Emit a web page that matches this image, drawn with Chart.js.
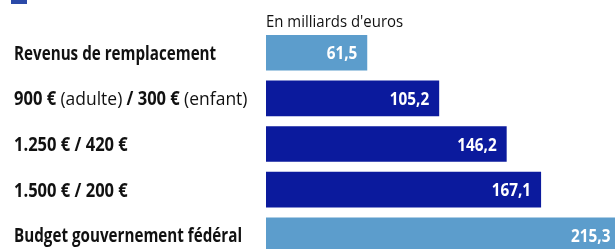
<!DOCTYPE html>
<html>
<head>
<meta charset="utf-8">
<script src="https://cdn.jsdelivr.net/npm/chart.js@4/dist/chart.umd.min.js"></script>
<style>
  html, body { margin: 0; padding: 0; background: #fff; overflow: hidden; }
  #wrap { width: 615px; height: 260px; }
</style>
</head>
<body>
<div id="wrap"><canvas id="chart" width="615" height="260"></canvas></div>
<script>
// Data
const categories = [
  'Revenus de remplacement',
  '900 € (adulte) / 300 € (enfant)',
  '1.250 € / 420 €',
  '1.500 € / 200 €',
  'Budget gouvernement fédéral'
];
const values = [61.5, 105.2, 146.2, 167.1, 215.3];
const unitLabel = "En milliards d'euros";

const light = '#5c9dcc';
const dark = '#0b1a9d';
const barColors = [light, dark, dark, dark, light];

// draw text narrower, the original font is condensed
function drawNarrow(ctx, text, x, y, font, squeeze, align) {
  ctx.save();
  ctx.translate(x, y);
  ctx.scale(squeeze, 1);
  ctx.font = font;
  ctx.textAlign = align || 'left';
  ctx.fillText(text, 0, 0);
  const w = ctx.measureText(text).width * squeeze;
  ctx.restore();
  return w;
}

const textPlugin = {
  id: 'textPlugin',
  beforeDraw(chart) {
    const ctx = chart.ctx;
    ctx.save();
    ctx.fillStyle = '#fff';
    ctx.fillRect(0, 0, chart.width, chart.height);
    // bout de légende coupé en haut
    ctx.fillStyle = '#2b4aa8';
    ctx.fillRect(11, 0, 16, 4);
    ctx.restore();
  },
  afterDatasetsDraw(chart) {
    const ctx = chart.ctx;
    const yScale = chart.scales.y;
    const area = chart.chartArea;
    const meta = chart.getDatasetMeta(0);

    ctx.save();
    ctx.fillStyle = '#111';
    ctx.textBaseline = 'alphabetic';
    drawNarrow(ctx, unitLabel, area.left, 27, '400 17px "Open Sans"', 0.88);

    // libellés des catégories, parenthèses en maigre
    categories.forEach((cat, i) => {
      const base = yScale.getPixelForValue(i) + 7;
      let x = 14;
      cat.split(/(\([^)]*\))/).filter(Boolean).forEach(part => {
        const regular = part.startsWith('(');
        // les chiffres de la police d'origine sont plus larges
        const squeeze = regular ? 0.92 : (/\d/.test(part) ? 0.87 : 0.8);
        x += drawNarrow(ctx, part, x, base,
          (regular ? '400 ' : '700 ') + '19px "Open Sans"', squeeze);
      });
    });

    // valeurs dans les barres
    ctx.fillStyle = '#fff';
    meta.data.forEach((bar, i) => {
      const end = Math.min(bar.x - 10, area.right - 3);
      drawNarrow(ctx, values[i].toFixed(1).replace('.', ','), end, bar.y + 6.5,
        '700 17px "Open Sans"', 0.9, 'right');
    });
    ctx.restore();
  }
};

new Chart(document.getElementById('chart').getContext('2d'), {
  type: 'bar',
  data: {
    labels: categories,
    datasets: [{
      data: values,
      backgroundColor: barColors,
      borderWidth: 0,
      barPercentage: 0.78,
      categoryPercentage: 1
    }]
  },
  options: {
    indexAxis: 'y',
    responsive: false,
    animation: false,
    layout: { padding: { left: 266, top: 30, right: 0, bottom: 2 } },
    scales: {
      x: { display: false, min: 0, max: 212 },
      y: { display: false }
    },
    plugins: {
      legend: { display: false },
      tooltip: { enabled: false }
    }
  },
  plugins: [textPlugin]
});
</script>
</body>
</html>
